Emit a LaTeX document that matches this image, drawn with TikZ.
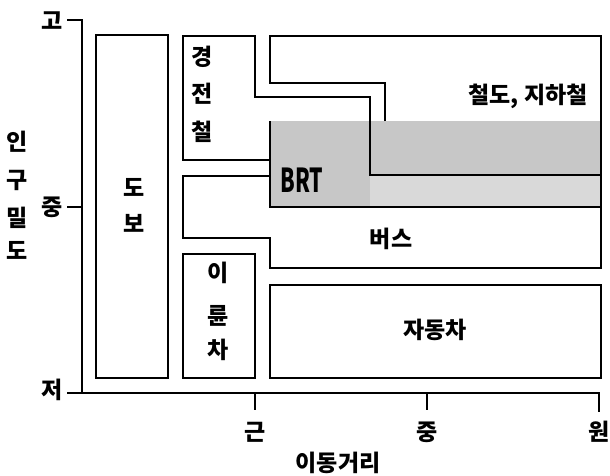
\documentclass[tikz,border=0pt]{standalone}
\usepackage{fontspec}
\newfontfamily\kr{Noto Sans CJK KR}
\begin{document}
\begin{tikzpicture}[x=1pt,y=-1pt,line width=1.6pt,line join=miter,
  lab/.style={font=\kr\bfseries\fontsize{23}{23}\selectfont,inner sep=0pt,anchor=center},
  brtlab/.style={font=\kr\bfseries\fontsize{33}{33}\selectfont,inner sep=0pt,xscale=0.64},
  zone/.style={draw=black,line width=1.6pt},
  axis/.style={draw=black,line width=1.8pt}]
\useasboundingbox (0,0) rectangle (610,475);
% BRT shading
\fill[black!22] (270,121) rectangle (601,207);
\fill[black!15] (370,175) rectangle (601,207);
% axes
\coordinate (ytop) at (67,20);
\coordinate (ymid) at (67,207);
\coordinate (orig) at (82,393);
\coordinate (xend) at (599,393);
\coordinate (xendd) at (599,412);
\draw[axis] (ytop) -- (82,20) -- (orig);
\draw[axis] (ymid) -- (82,207);
\draw[axis] (67,393) -- (xend) -- (xendd);
\draw[axis] (255,393) -- (255,410);
\draw[axis] (427,393) -- (427,410);
% regions
\draw[zone] (96,35) rectangle (168,378); % walking
\draw[zone] (270,160) -- (183,160) -- (183,36) -- (255,36) -- (255,97) -- (370,97) -- (370,175) -- (601,175); % light rail
\draw[zone] (385,121) -- (385,83) -- (270,83) -- (270,36) -- (601,36) -- (601,175); % rail, subway
\draw[zone] (270,121) -- (270,207) -- (601,207); % BRT
\draw[zone] (270,176) -- (183,176) -- (183,238) -- (270,238) -- (270,268) -- (601,268) -- (601,175); % bus
\draw[zone] (183,254) rectangle (255,378); % two-wheeler
\draw[zone] (270,285) rectangle (601,378); % car
% labels in regions
\node[lab] (w1) at (134,187) {도};
\node[lab] (w2) at (134,223) {보};
\node[lab] (l1) at (202,57) {경};
\node[lab] (l2) at (202,94) {전};
\node[lab] (l3) at (202,132) {철};
\node[lab] (t1) at (218,273) {이};
\node[lab] (t2) at (218,316) {륜};
\node[lab] (t3) at (218,350) {차};
\node[brtlab] (brt) at (302,180) {BRT};
\node[lab] (rail) at (528,96) {철도, 지하철};
\node[lab] (bus) at (391,239) {버스};
\node[lab] (car) at (435,330) {자동차};
% axis labels
\node[lab] (yh) at (52,21) {고};
\node[lab] (ym) at (52,207) {중};
\node[lab] (yl) at (52,390) {저};
\node[lab] (xn) at (255,432) {근};
\node[lab] (xm) at (427,432) {중};
\node[lab] (xf) at (599,432) {원};
\node[lab] (xlab) at (338,463) {이동거리};
\node[lab] (yl1) at (17,142) {인};
\node[lab] (yl2) at (17,180) {구};
\node[lab] (yl3) at (17,218) {밀};
\node[lab] (yl4) at (17,250) {도};
\end{tikzpicture}
\end{document}
